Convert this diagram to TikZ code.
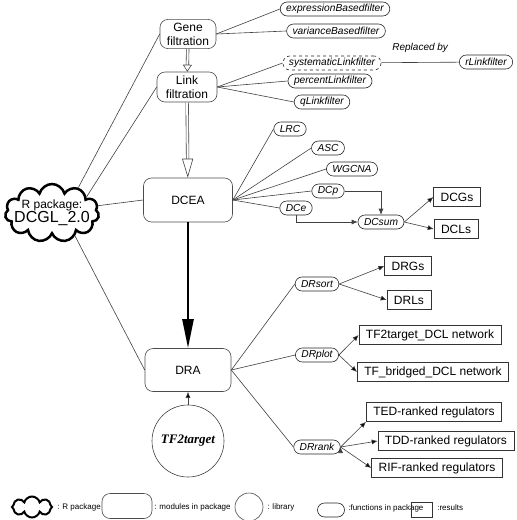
\documentclass[tikz,border=0pt]{standalone}
\usepackage{fontspec}
\setmainfont{Liberation Sans}
\newfontfamily\libfont{Liberation Serif}
\usetikzlibrary{arrows,arrows.meta,positioning,shapes.symbols,shapes.misc}

\begin{document}
\begin{tikzpicture}[x=1pt, y=-1pt, >={Latex[length=6pt,width=5pt]}, semithick]
        \tikzstyle{module}=[draw=black!70, semithick, rounded corners=8pt, align=center, font=\fontsize{12}{14}\selectfont]
        \tikzstyle{func}=[draw=black!85, semithick, rounded corners=7pt, minimum height=14pt, inner xsep=6pt, inner ysep=1pt, font=\fontsize{10.2}{12}\selectfont\itshape]
        \tikzstyle{result}=[draw=black!80, semithick, rectangle, minimum height=19pt, inner xsep=7pt, inner ysep=1pt, font=\fontsize{12}{14}\selectfont]
        \tikzstyle{link}=[draw=black!75]
        \tikzstyle{legend}=[font=\fontsize{8}{9}\selectfont, anchor=west, inner sep=0pt]
        \useasboundingbox (0,0) rectangle (517,520);

        \node[module, minimum width=56pt, minimum height=28pt]  (gene)  at (188,34)  {Gene\\filtration};
        \node[module, minimum width=60pt, minimum height=30pt]  (link)  at (187,87)  {Link\\filtration};
        \node[module, minimum width=89pt, minimum height=44pt]  (dcea)  at (188,200) {DCEA};
        \node[module, minimum width=86pt, minimum height=43pt]  (dra)   at (188,370) {DRA};
        \node[circle, draw=black!75, semithick, minimum size=72pt, font=\libfont\fontsize{13}{15}\selectfont\bfseries\itshape] (tft) at (188,441) {TF2target};

        \node[cloud, draw, line width=2.5pt, cloud puffs=11, aspect=1.6, minimum width=94pt, minimum height=58pt] (pkg) at (52,213) {};
        \node[align=center, inner sep=0pt] (pkgtext) at (pkg) {\fontsize{12}{13}\selectfont R package:\\[-1pt]\fontsize{16}{17}\selectfont DCGL\_2.0};

        \node[func]         (ebf)    at (335,9)   {expressionBasedfilter};
        \node[func]         (vbf)    at (336,31)  {varianceBasedfilter};
        \node[func, dashed] (slf)    at (332,63)  {systematicLinkfilter};
        \node[func]         (rlf)    at (486,62)  {rLinkfilter};
        \node[func]         (plf)    at (330,81)  {percentLinkfilter};
        \node[func]         (qlf)    at (322,102) {qLinkfilter};
        \node[func]         (lrc)    at (290,129) {LRC};
        \node[func]         (asc)    at (328,148) {ASC};
        \node[func]         (wgcna)  at (352,169) {WGCNA};
        \node[func]         (dcp)    at (328,191) {DCp};
        \node[func]         (dce)    at (296,208) {DCe};
        \node[func]         (dcsum)  at (381,222) {DCsum};
        \node[func]         (drsort) at (317,284) {DRsort};
        \node[func]         (drplot) at (317,355) {DRplot};
        \node[func]         (drrank) at (317,447) {DRrank};

        \node[result] (dcgs) at (457,197) {DCGs};
        \node[result] (dcls) at (456,229) {DCLs};
        \node[result] (drgs) at (408,266) {DRGs};
        \node[result] (drls) at (409,300) {DRLs};
        \node[result] (tf2t) at (430,335) {TF2target\_DCL network};
        \node[result] (tfb)  at (433,372) {TF\_bridged\_DCL network};
        \node[result] (ted)  at (434,412) {TED-ranked regulators};
        \node[result] (tdd)  at (446,441) {TDD-ranked regulators};
        \node[result] (rif)  at (437,468) {RIF-ranked regulators};

        \path[link]
        (pkg.44)    edge (gene.west)
        (pkg.25)    edge (link.west)
        (pkg.9)     edge (dcea.west)
        (pkg.-45)   edge (dra.west)

        (gene.east) edge (ebf.west)
                    edge (vbf.west)
        (link.east) edge (slf.west)
                    edge (plf.west)
                    edge (qlf.west)
        (slf)       edge node[above=6pt, font=\fontsize{10}{12}\selectfont\itshape, text=black] {Replaced by} (rlf)

        (dcea.east) edge (lrc.west)
                    edge (asc.west)
                    edge (wgcna.west)
                    edge (dcp.west)
                    edge (dce.west)
        (dra.east)  edge (drsort.west)
                    edge (drplot.west)
                    edge (drrank.west);

        \draw[link, ->] (dcp.east) -| (dcsum.north);
        \draw[link, ->] (dce.south) |- (dcsum.west);

        \path[link, ->]
        (dcsum.east)  edge (dcgs.west)
                      edge (dcls.west)
        (drsort.east) edge (drgs.west)
                      edge (drls.west)
        (drplot.east) edge (tf2t.west)
                      edge (tfb.west)
        (drrank.east) edge (ted.south west)
                      edge (tdd.west)
                      edge (rif.west)
        (tft)         edge (dra);

        \draw[black!75, double, double distance=2pt, -{Triangle[open, length=7pt, width=9pt]}] (gene) -- (link);
        \draw[black!75, double, double distance=2pt, -{Triangle[open, length=19pt, width=11pt]}] (link) -- (dcea);
        \draw[line width=2.5pt, -{Triangle[length=29pt, width=11pt]}] (dcea) -- (dra);

        % legend
        \node[cloud, draw, line width=2pt, cloud puffs=8, aspect=2, minimum width=40pt, minimum height=21pt] (lgpkg) at (32,507) {};
        \node[legend] at (57,507)  {: R package};
        \node[draw=black!70, semithick, rounded corners=8pt, minimum width=50pt, minimum height=25pt] (lgmod) at (127,506) {};
        \node[legend] at (154,507) {: modules in package};
        \node[circle, draw=black!70, semithick, minimum size=28pt] (lglib) at (249,507) {};
        \node[legend] at (267,507) {: library};
        \node[draw=black!85, semithick, rounded corners=7pt, minimum width=27pt, minimum height=14pt] (lgfun) at (331,510) {};
        \node[legend] at (348,508) {:functions in package};
        \node[draw=black!80, semithick, minimum width=21pt, minimum height=15pt] (lgres) at (422,510) {};
        \node[legend] at (437,508) {:results};
\end{tikzpicture}
\end{document}
